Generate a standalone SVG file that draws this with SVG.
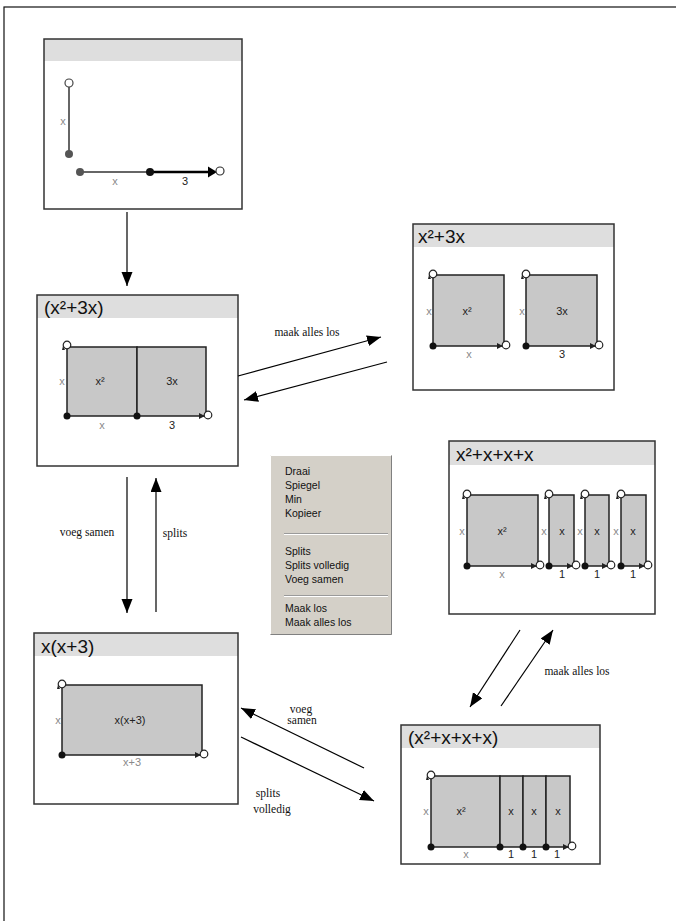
<svg xmlns="http://www.w3.org/2000/svg" xmlns:xlink="http://www.w3.org/1999/xlink" width="676" height="921" viewBox="0 0 676 921">
<style>
.frame{fill:none;stroke:#333;stroke-width:1.5}
.bg{fill:#fff}
.hdr{fill:#dedede}
.title{font-family:"Liberation Sans",Arial,sans-serif;font-size:19px;fill:#111}
.shape{fill:#c8c8c8;stroke:#222;stroke-width:1.5}
.lbl{font-family:"Liberation Sans",Arial,sans-serif;font-size:11px;fill:#222;text-anchor:middle}
.glbl{font-family:"Liberation Sans",Arial,sans-serif;font-size:11px;fill:#8a8a8a;text-anchor:middle}
.conn line{stroke:#000;stroke-width:1.2;marker-end:url(#ah)}
.clbl{font-family:"Liberation Serif","Times New Roman",serif;font-size:11.5px;fill:#111;text-anchor:middle}
.menu text{font-family:"Liberation Sans",Arial,sans-serif;font-size:10.5px;fill:#111}
</style>
<defs>
<marker id="ah" markerUnits="userSpaceOnUse" markerWidth="15" markerHeight="12" refX="14" refY="5.5" orient="auto">
<path d="M0,0 L14,5.5 L0,11 z" fill="#000"/>
</marker>
<g id="hopen"><circle r="3.8" fill="#fff" stroke="#222" stroke-width="1.2"/><path d="M-4,1 L-2,5 L-5,5 z" fill="#222"/></g>
<g id="hend"><path d="M-8,-3 L-2,0 L-8,3 z" fill="#222"/><circle cx="1" cy="-1" r="3.8" fill="#fff" stroke="#222" stroke-width="1.2"/></g>
<circle id="dot" r="3.5" fill="#111"/>
</defs>
<rect x="4" y="7" width="700" height="940" fill="#fff" stroke="#111" stroke-width="1.2"/>

<g id="n-start">
<rect class="bg" x="44" y="39" width="198" height="170"/>
<rect class="hdr" x="44" y="39" width="198" height="22"/>
<rect class="frame" x="44" y="39" width="198" height="170"/>
<line x1="69" y1="86" x2="69" y2="154" stroke="#666" stroke-width="2"/>
<circle cx="69" cy="83" r="4" fill="#fff" stroke="#444" stroke-width="1.2"/>
<circle cx="69" cy="154" r="4" fill="#555"/>
<text class="glbl" x="63" y="125">x</text>
<line x1="80" y1="172" x2="150" y2="172" stroke="#666" stroke-width="2"/>
<circle cx="80" cy="172" r="4" fill="#555"/>
<line x1="150" y1="172" x2="210" y2="172" stroke="#000" stroke-width="2.5"/>
<circle cx="150" cy="172" r="4" fill="#111"/>
<path d="M208,166.5 L217,172 L208,177.5 z" fill="#000"/>
<circle cx="220" cy="171" r="4" fill="#fff" stroke="#333" stroke-width="1.2"/>
<text class="glbl" x="115" y="185">x</text>
<text class="lbl" x="185" y="185">3</text>
</g>

<g id="n-x2p3x-paren">
<rect class="bg" x="37" y="295" width="201" height="171"/>
<rect class="hdr" x="37" y="295" width="201" height="23"/>
<rect class="frame" x="37" y="295" width="201" height="171"/>
<text class="title" x="44" y="314">(x²+3x)</text>
<rect class="shape" x="67" y="347" width="70" height="69"/>
<rect class="shape" x="137" y="347" width="69" height="69"/>
<use xlink:href="#hopen" x="67" y="345"/>
<use xlink:href="#dot" x="67" y="416"/>
<use xlink:href="#dot" x="137" y="416"/>
<use xlink:href="#hend" x="207" y="416"/>
<text class="lbl" x="100" y="385">x²</text>
<text class="lbl" x="172" y="385">3x</text>
<text class="glbl" x="62" y="385">x</text>
<text class="glbl" x="102" y="429">x</text>
<text class="lbl" x="172" y="429">3</text>
</g>

<g id="n-x2p3x">
<rect class="bg" x="413" y="224" width="201" height="166"/>
<rect class="hdr" x="413" y="224" width="201" height="23"/>
<rect class="frame" x="413" y="224" width="201" height="166"/>
<text class="title" x="418" y="243">x²+3x</text>
<rect class="shape" x="433" y="275" width="71" height="71"/>
<rect class="shape" x="526" y="275" width="71" height="71"/>
<use xlink:href="#hopen" x="433" y="274"/>
<use xlink:href="#dot" x="433" y="346"/>
<use xlink:href="#hend" x="505" y="346"/>
<use xlink:href="#hopen" x="526" y="274"/>
<use xlink:href="#dot" x="526" y="346"/>
<use xlink:href="#hend" x="598" y="346"/>
<text class="lbl" x="467" y="315">x²</text>
<text class="lbl" x="562" y="315">3x</text>
<text class="glbl" x="429" y="315">x</text>
<text class="glbl" x="522" y="315">x</text>
<text class="glbl" x="469" y="358">x</text>
<text class="lbl" x="562" y="358">3</text>
</g>

<g id="menu" class="menu">
<rect x="270" y="455" width="122" height="180" fill="#d4d0c8"/>
<path d="M270.5,634.5 V455.5 H391.5" fill="none" stroke="#fff" stroke-width="1"/>
<path d="M270.5,634.5 H391.5 V455.5" fill="none" stroke="#808080" stroke-width="1"/>
<text x="285" y="475">Draai</text>
<text x="285" y="489">Spiegel</text>
<text x="285" y="503">Min</text>
<text x="285" y="517">Kopieer</text>
<line x1="284" y1="533.5" x2="388" y2="533.5" stroke="#9a9a9a"/>
<line x1="284" y1="534.5" x2="388" y2="534.5" stroke="#fff"/>
<text x="285" y="555">Splits</text>
<text x="285" y="569">Splits volledig</text>
<text x="285" y="583">Voeg samen</text>
<line x1="284" y1="595.5" x2="388" y2="595.5" stroke="#9a9a9a"/>
<line x1="284" y1="596.5" x2="388" y2="596.5" stroke="#fff"/>
<text x="285" y="612">Maak los</text>
<text x="285" y="626">Maak alles los</text>
</g>

<g id="n-x2pxpxpx">
<rect class="bg" x="449" y="441" width="206" height="173"/>
<rect class="hdr" x="449" y="441" width="206" height="24"/>
<rect class="frame" x="449" y="441" width="206" height="173"/>
<text class="title" x="456" y="461">x²+x+x+x</text>
<rect class="shape" x="467" y="495" width="71" height="71"/>
<rect class="shape" x="549" y="495" width="25" height="71"/>
<rect class="shape" x="585" y="495" width="24" height="71"/>
<rect class="shape" x="621" y="495" width="25" height="71"/>
<use xlink:href="#hopen" x="467" y="494"/>
<use xlink:href="#dot" x="467" y="566"/>
<use xlink:href="#hend" x="539" y="566"/>
<use xlink:href="#hopen" x="549" y="494"/>
<use xlink:href="#dot" x="549" y="566"/>
<use xlink:href="#hend" x="575" y="566"/>
<use xlink:href="#hopen" x="585" y="494"/>
<use xlink:href="#dot" x="585" y="566"/>
<use xlink:href="#hend" x="610" y="566"/>
<use xlink:href="#hopen" x="621" y="494"/>
<use xlink:href="#dot" x="621" y="566"/>
<use xlink:href="#hend" x="647" y="566"/>
<text class="lbl" x="502" y="535">x²</text>
<text class="lbl" x="562" y="535">x</text>
<text class="lbl" x="597" y="535">x</text>
<text class="lbl" x="633" y="535">x</text>
<text class="glbl" x="462" y="535">x</text>
<text class="glbl" x="544" y="535">x</text>
<text class="glbl" x="580" y="535">x</text>
<text class="glbl" x="616" y="535">x</text>
<text class="glbl" x="502" y="578">x</text>
<text class="lbl" x="562" y="578">1</text>
<text class="lbl" x="597" y="578">1</text>
<text class="lbl" x="633" y="578">1</text>
</g>

<g id="n-xxp3">
<rect class="bg" x="34" y="633" width="204" height="171"/>
<rect class="hdr" x="34" y="633" width="204" height="23"/>
<rect class="frame" x="34" y="633" width="204" height="171"/>
<text class="title" x="41" y="653">x(x+3)</text>
<rect class="shape" x="62" y="685" width="140" height="70"/>
<use xlink:href="#hopen" x="62" y="684"/>
<use xlink:href="#dot" x="62" y="755"/>
<use xlink:href="#hend" x="203" y="755"/>
<text class="lbl" x="130" y="724">x(x+3)</text>
<text class="glbl" x="58" y="724">x</text>
<text class="glbl" x="132" y="766">x+3</text>
</g>

<g id="n-x2pxpxpx-paren">
<rect class="bg" x="401" y="725" width="199" height="139"/>
<rect class="hdr" x="401" y="725" width="199" height="23"/>
<rect class="frame" x="401" y="725" width="199" height="139"/>
<text class="title" x="408" y="744">(x²+x+x+x)</text>
<rect class="shape" x="431" y="776" width="69" height="71"/>
<rect class="shape" x="500" y="776" width="23" height="71"/>
<rect class="shape" x="523" y="776" width="23" height="71"/>
<rect class="shape" x="546" y="776" width="24" height="71"/>
<use xlink:href="#hopen" x="431" y="775"/>
<use xlink:href="#dot" x="431" y="847"/>
<use xlink:href="#dot" x="500" y="847"/>
<use xlink:href="#dot" x="523" y="847"/>
<use xlink:href="#dot" x="546" y="847"/>
<use xlink:href="#hend" x="571" y="847"/>
<text class="lbl" x="461" y="815">x²</text>
<text class="lbl" x="511" y="815">x</text>
<text class="lbl" x="534" y="815">x</text>
<text class="lbl" x="558" y="815">x</text>
<text class="glbl" x="426" y="815">x</text>
<text class="glbl" x="466" y="858">x</text>
<text class="lbl" x="511" y="858">1</text>
<text class="lbl" x="534" y="858">1</text>
<text class="lbl" x="557" y="858">1</text>
</g>

<g id="connectors" class="conn">
<line x1="127" y1="212" x2="127" y2="286"/>
<line x1="238" y1="376" x2="381" y2="337"/>
<line x1="387" y1="362" x2="244" y2="400"/>
<line x1="127" y1="477" x2="127" y2="613"/>
<line x1="156" y1="612" x2="156" y2="478"/>
<line x1="364" y1="768" x2="241" y2="708"/>
<line x1="241" y1="737" x2="374" y2="801"/>
<line x1="520" y1="630" x2="470" y2="707"/>
<line x1="501" y1="706" x2="553" y2="630"/>
</g>
<g id="connector-labels">
<text class="clbl" x="307" y="336">maak alles los</text>
<text class="clbl" x="87" y="536">voeg samen</text>
<text class="clbl" x="175" y="537">splits</text>
<text class="clbl" x="301" y="713">voeg</text>
<text class="clbl" x="302" y="724">samen</text>
<text class="clbl" x="268" y="797">splits</text>
<text class="clbl" x="272" y="813">volledig</text>
<text class="clbl" x="577" y="675">maak alles los</text>
</g>
</svg>
